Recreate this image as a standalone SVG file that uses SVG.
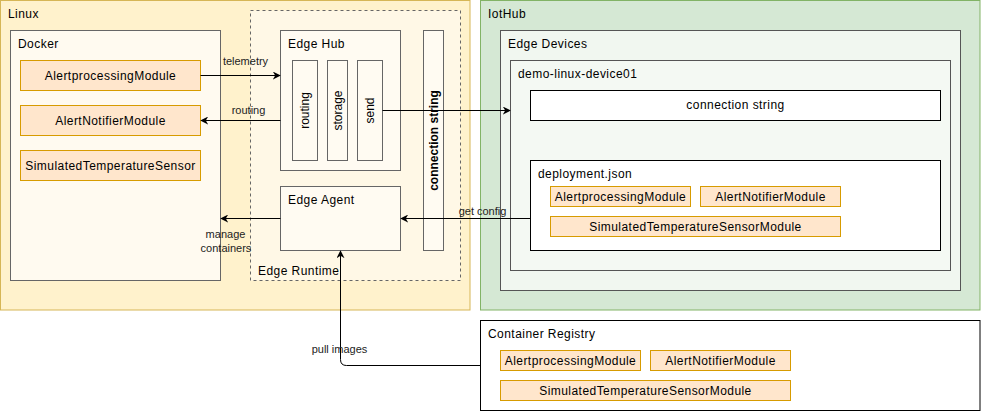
<svg xmlns="http://www.w3.org/2000/svg" width="981" height="411" viewBox="0 0 981 411">
<style>
text{font-family:"Liberation Sans",Arial,sans-serif;font-size:12px;fill:#000}
.n{letter-spacing:0.45px}
.b{font-weight:bold}
.m{text-anchor:middle}
.lbl{font-size:11px;fill:#222;text-anchor:middle}
.mod{fill:#ffe6cc;stroke:#d79b00;stroke-width:1}
.g{stroke:#666;stroke-width:1}
.e{fill:none;stroke:#000;stroke-width:1}
</style>
<defs>
<marker id="arr" viewBox="0 0 10 10" refX="9" refY="5" markerWidth="8" markerHeight="8" markerUnits="userSpaceOnUse" orient="auto">
<path d="M0,0 L10,5 L0,10 L3,5 Z" fill="#000"/>
</marker>
</defs>

<g id="linux">
<rect x="0.5" y="0.5" width="469.5" height="309.5" fill="#fff2cc" stroke="#d6b656"/>
<text class="n" x="8" y="18">Linux</text>
</g>
<g id="docker">
<rect x="10.5" y="30.5" width="210" height="250" fill="#fffaf0" class="g"/>
<text class="n" x="18" y="48">Docker</text>
</g>
<g id="docker-alertprocessing">
<rect x="20.5" y="60.5" width="180" height="30" class="mod"/>
<text class="n m" x="110.5" y="79.5">AlertprocessingModule</text>
</g>
<g id="docker-alertnotifier">
<rect x="20.5" y="105.5" width="180" height="30" class="mod"/>
<text class="n m" x="110.5" y="124.5">AlertNotifierModule</text>
</g>
<g id="docker-simtemp">
<rect x="20.5" y="150.5" width="180" height="30" class="mod"/>
<text class="n m" x="110.5" y="169.5">SimulatedTemperatureSensor</text>
</g>
<g id="edge-runtime">
<rect x="250.5" y="10.5" width="210" height="270" fill="#fff8e6" stroke="#666" stroke-dasharray="3 3"/>
<text class="n" x="258" y="274.5">Edge Runtime</text>
</g>
<g id="edge-hub">
<rect x="280.5" y="30.5" width="120" height="140" fill="#fffbf2" class="g"/>
<text class="n" x="288" y="48">Edge Hub</text>
</g>
<g id="hub-routing">
<rect x="292.5" y="60.5" width="25" height="100" fill="#fffbf2" class="g"/>
<text class="m" transform="translate(305,110.5) rotate(-90)" x="0" y="4">routing</text>
</g>
<g id="hub-storage">
<rect x="327.5" y="60.5" width="20" height="100" fill="#fffbf2" class="g"/>
<text class="m" transform="translate(337.5,110.5) rotate(-90)" x="0" y="4">storage</text>
</g>
<g id="hub-send">
<rect x="357.5" y="60.5" width="25" height="100" fill="#fffbf2" class="g"/>
<text class="m" transform="translate(370,110.5) rotate(-90)" x="0" y="4">send</text>
</g>
<g id="runtime-connstring">
<rect x="423.5" y="30.5" width="20" height="220" fill="#fffbf2" class="g"/>
<text class="b m" transform="translate(433.5,140.5) rotate(-90)" x="0" y="4">connection string</text>
</g>
<g id="edge-agent">
<rect x="280.5" y="186.5" width="120" height="64" fill="#fffbf2" class="g"/>
<text class="n" x="288" y="204">Edge Agent</text>
</g>

<g id="iothub">
<rect x="480.5" y="0.5" width="499.5" height="309.5" fill="#d5e8d4" stroke="#82b366"/>
<text class="n" x="488" y="18">IotHub</text>
</g>
<g id="edge-devices">
<rect x="500.5" y="30.5" width="460" height="260" fill="#f1f7f0" stroke="#555"/>
<text class="n" x="508" y="48">Edge Devices</text>
</g>
<g id="device01">
<rect x="510.5" y="60.5" width="440" height="210" fill="#f4f9f3" stroke="#555"/>
<text class="n" x="518" y="78">demo-linux-device01</text>
</g>
<g id="device-connstring">
<rect x="530.5" y="90.5" width="410" height="30" fill="#fff" stroke="#000"/>
<text class="n m" x="735.5" y="109">connection string</text>
</g>
<g id="deployment">
<rect x="530.5" y="160.5" width="410" height="90" fill="#fff" stroke="#000"/>
<text class="n" x="538" y="178">deployment.json</text>
</g>
<g id="dep-alertprocessing">
<rect x="550.5" y="186.5" width="140" height="20" class="mod"/>
<text class="n m" x="620.5" y="200.5">AlertprocessingModule</text>
</g>
<g id="dep-alertnotifier">
<rect x="700.5" y="186.5" width="140" height="20" class="mod"/>
<text class="n m" x="770.5" y="200.5">AlertNotifierModule</text>
</g>
<g id="dep-simtemp">
<rect x="550.5" y="216.5" width="290" height="20" class="mod"/>
<text class="n m" x="695.5" y="230.5">SimulatedTemperatureSensorModule</text>
</g>

<g id="registry">
<rect x="480.5" y="320.5" width="499.5" height="90" fill="#fff" stroke="#000"/>
<text class="n" x="488" y="337.5">Container Registry</text>
</g>
<g id="reg-alertprocessing">
<rect x="500.5" y="350.5" width="140" height="20" class="mod"/>
<text class="n m" x="570.5" y="364.5">AlertprocessingModule</text>
</g>
<g id="reg-alertnotifier">
<rect x="650.5" y="350.5" width="140" height="20" class="mod"/>
<text class="n m" x="720.5" y="364.5">AlertNotifierModule</text>
</g>
<g id="reg-simtemp">
<rect x="500.5" y="380.5" width="290" height="20" class="mod"/>
<text class="n m" x="645.5" y="394.5">SimulatedTemperatureSensorModule</text>
</g>

<g id="connectors">
<path class="e" d="M200.5,75.5 L280,75.5" marker-end="url(#arr)"/>
<text class="lbl" x="245.5" y="65">telemetry</text>
<path class="e" d="M280.5,120.5 L201,120.5" marker-end="url(#arr)"/>
<text class="lbl" x="248.5" y="114">routing</text>
<path class="e" d="M382.5,110.5 L510,110.5" marker-end="url(#arr)"/>
<path class="e" d="M530.5,218.5 L401,218.5" marker-end="url(#arr)"/>
<text class="lbl" x="482.5" y="215">get config</text>
<path class="e" d="M280.5,218.5 L221,218.5" marker-end="url(#arr)"/>
<text class="lbl" x="225.5" y="238">manage</text>
<text class="lbl" x="226" y="252">containers</text>
<path class="e" d="M480.5,365.5 L346.5,365.5 Q340.5,365.5 340.5,359.5 L340.5,251" marker-end="url(#arr)"/>
<text class="lbl" x="339.5" y="353">pull images</text>
</g>
</svg>
